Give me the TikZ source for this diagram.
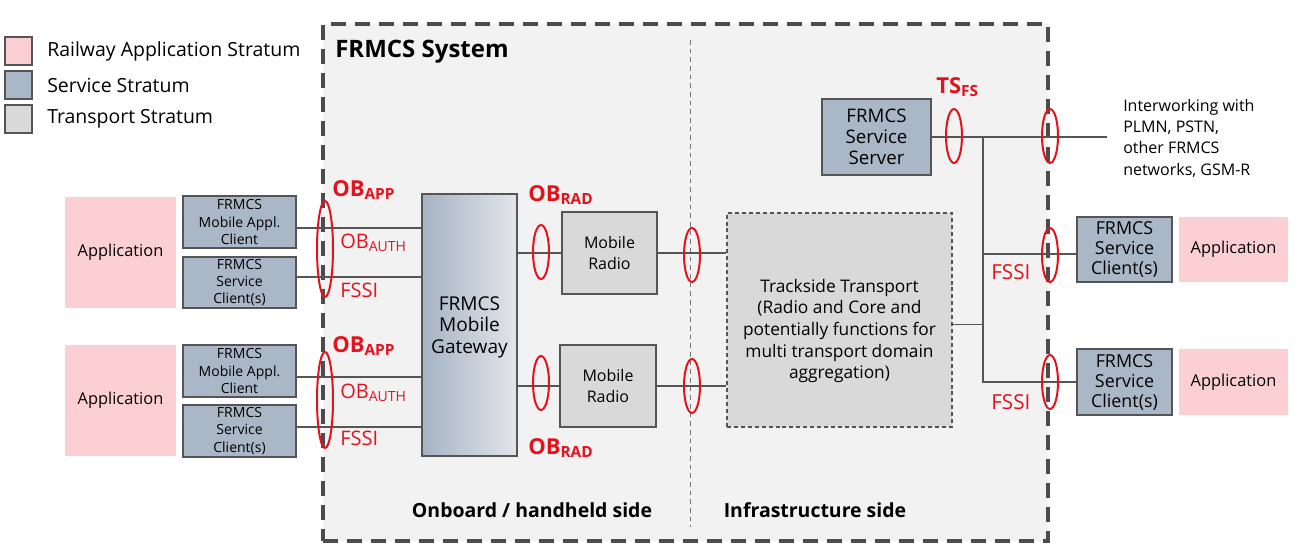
\documentclass[tikz,border=0pt]{standalone}
\usepackage{fontspec}
\setmainfont{Open Sans}
\usetikzlibrary{shapes.geometric}
\definecolor{apppink}{RGB}{252,208,211}
\definecolor{svcblue}{RGB}{170,183,199}
\definecolor{trgray}{RGB}{217,217,217}
\definecolor{sysbg}{RGB}{242,242,242}
\definecolor{edge}{RGB}{85,85,85}
\definecolor{ifred}{RGB}{228,18,28}
\definecolor{gwleft}{RGB}{166,179,196}
\definecolor{gwright}{RGB}{226,229,233}
\begin{document}
\begin{tikzpicture}[x=0.75pt,y=-0.75pt,
  wh/.style 2 args={minimum width=#1*0.75pt, minimum height=#2*0.75pt},
  box/.style={draw=edge, line width=1.1pt, inner sep=0pt, align=center},
  svc/.style={box, fill=svcblue},
  trn/.style={box, fill=trgray},
  app/.style={inner sep=0pt, fill=apppink, align=center, font=\fontsize{12.3}{15}\selectfont},
  legsq/.style={draw=edge, line width=1pt, inner sep=0pt, wh={27}{28}},
  legtx/.style={anchor=west, inner sep=0pt, font=\fontsize{14.6}{17}\selectfont},
  conn/.style={draw=edge, line width=1.1pt},
  ring/.style={ellipse, draw=ifred, line width=1.5pt, inner sep=0pt, minimum width=12pt, minimum height=40.5pt},
  bigring/.style={ring, minimum height=72pt},
  labb/.style={text=ifred, inner sep=0pt, anchor=west, font=\fontsize{16.5}{19}\selectfont\bfseries},
  labn/.style={text=ifred, inner sep=0pt, anchor=west, font=\fontsize{15}{18}\selectfont},
  smallf/.style={font=\fontsize{10.5}{13}\selectfont},
  midf/.style={font=\fontsize{12}{16}\selectfont},
  sidef/.style={inner sep=0pt, font=\fontsize{14.6}{17}\selectfont\bfseries}
]
\useasboundingbox (0,0) rectangle (1300,558);

% legend
\node[legsq, fill=apppink] (lg1) at (18.5,51) {};
\node[legsq, fill=svcblue] (lg2) at (18.5,85) {};
\node[legsq, fill=trgray] (lg3) at (18.5,119) {};
\node[legtx] (lt1) at (47,51) {Railway Application Stratum};
\node[legtx] (lt2) at (47,85) {Service Stratum};
\node[legtx] (lt3) at (47,119) {Transport Stratum};

% system box
\node[wh={725}{517}, inner sep=0pt, fill=sysbg, draw=edge!90!black, line width=2.6pt, dash pattern=on 11pt off 7pt] (sys) at (685.5,282.5) {};
\node[anchor=west, inner sep=0pt, font=\fontsize{18}{21}\selectfont\bfseries] (systitle) at (335,52) {FRMCS System};
\coordinate (divtop) at (690,40);
\coordinate (divbot) at (690,527);
\draw[edge!80, line width=0.7pt, dash pattern=on 3.5pt off 3pt] (divtop) -- (divbot);
\node[sidef] (onb) at (532,510) {Onboard / handheld side};
\node[sidef] (inf) at (815,510) {Infrastructure side};

% left applications and clients
\node[app, wh={111}{111}] (app1) at (120.5,252.5) {Application};
\node[app, wh={111}{111}] (app2) at (120.5,400.5) {Application};
\node[svc, smallf, wh={113}{52}] (mac1) at (239.5,222) {FRMCS\\Mobile Appl.\\Client};
\node[svc, smallf, wh={113}{51}] (sc1) at (239.5,282.5) {FRMCS\\Service\\Client(s)};
\node[svc, smallf, wh={113}{52}] (mac2) at (239.5,371) {FRMCS\\Mobile Appl.\\Client};
\node[svc, smallf, wh={113}{52}] (sc2) at (239.5,431) {FRMCS\\Service\\Client(s)};

% gateway
\node[box, left color=gwleft, right color=gwright, wh={95}{262}] (gw) at (469.5,325) {};
\node[inner sep=0pt, align=center, font=\fontsize{14.3}{16.2}\selectfont] (gwt) at (469.5,327) {FRMCS\\Mobile\\Gateway};

% radios
\node[trn, midf, wh={95}{82}] (mr1) at (609.5,253) {Mobile\\Radio};
\node[trn, midf, wh={96}{82}] (mr2) at (608,386) {Mobile\\Radio};

% trackside transport
\node[box, fill=trgray, dash pattern=on 3pt off 2.2pt, line width=0.9pt, wh={225}{214}] (tt) at (839.5,320) {};
\node[inner sep=0pt, align=center, font=\fontsize{13}{16.2}\selectfont] (ttt) at (839.5,331) {Trackside Transport\\(Radio and Core and\\potentially functions for\\multi transport domain\\aggregation)};

% service server
\node[svc, font=\fontsize{14}{15.8}\selectfont, wh={109}{76}] (ss) at (876.5,137) {FRMCS\\Service\\Server};

% right clients and applications
\node[svc, font=\fontsize{13.4}{15}\selectfont, wh={95}{65}] (sc3) at (1124.5,249.5) {FRMCS\\Service\\Client(s)};
\node[svc, font=\fontsize{13.4}{15}\selectfont, wh={95}{66}] (sc4) at (1124.5,382) {FRMCS\\Service\\Client(s)};
\node[app, wh={109}{65}] (app3) at (1233.5,249.5) {Application};
\node[app, wh={109}{66}] (app4) at (1233.5,382) {Application};

\node[anchor=west, inner sep=0pt, align=left, font=\fontsize{12}{16}\selectfont] (iw) at (1123,138) {Interworking with\\PLMN, PSTN,\\other FRMCS\\networks, GSM-R};

% connectors
\coordinate (jtop) at (983,137);
\coordinate (jbot) at (983,383);
\coordinate (iwend) at (1107,137);
\draw[conn] ([yshift=-4.5pt]mac1.east) coordinate (a1) -- (a1 -| gw.west);
\draw[conn] ([yshift=4pt]sc1.east) coordinate (a2) -- (a2 -| gw.west);
\draw[conn] ([yshift=-4.5pt]mac2.east) coordinate (a3) -- (a3 -| gw.west);
\draw[conn] ([yshift=3pt]sc2.east) coordinate (a4) -- (a4 -| gw.west);
\draw[conn] (mr1.west) -- (mr1.west -| gw.east);
\draw[conn] (mr2.west) -- (mr2.west -| gw.east);
\draw[conn] (mr1.east) -- (mr1.east -| tt.west);
\draw[conn] (mr2.east) -- (mr2.east -| tt.west);
\draw[conn] ([yshift=-3.5pt]tt.east) coordinate (a5) -- (a5 -| jtop);
\draw[conn] (ss.east |- jtop) -- (iwend);
\draw[conn] (jtop) -- (jbot);
\draw[conn] ([yshift=-3.5pt]sc3.west) coordinate (a6) -- (a6 -| jtop);
\draw[conn] (sc4.west) -- (sc4.west -| jbot);

% interface rings
\node[bigring] (r1) at (325,249) {};
\node[bigring] (r2) at (325,400) {};
\node[ring] (r3) at (541,252) {};
\node[ring] (r4) at (541,383) {};
\node[ring] (r5) at (692,255) {};
\node[ring] (r6) at (692,386) {};
\node[ring] (r7) at (954,136) {};
\node[ring] (r8) at (1050,136) {};
\node[ring] (r9) at (1050,255) {};
\node[ring] (r10) at (1050,382) {};

% interface labels
\node[labb] (l1) at (332,190) {OB\textsubscript{APP}};
\node[labn] (l2) at (340,243) {OB\textsubscript{AUTH}};
\node[labn] (l3) at (340,290) {FSSI};
\node[labb] (l4) at (332,346) {OB\textsubscript{APP}};
\node[labn] (l5) at (340,393) {OB\textsubscript{AUTH}};
\node[labn] (l6) at (340,438) {FSSI};
\node[labb] (l7) at (528,195) {OB\textsubscript{RAD}};
\node[labb] (l8) at (528,448) {OB\textsubscript{RAD}};
\node[labb] (l9) at (936,87) {TS\textsubscript{FS}};
\node[labn, font=\fontsize{15.5}{18}\selectfont] (l10) at (991,272) {FSSI};
\node[labn, font=\fontsize{15.5}{18}\selectfont] (l11) at (991,402) {FSSI};
\end{tikzpicture}
\end{document}
